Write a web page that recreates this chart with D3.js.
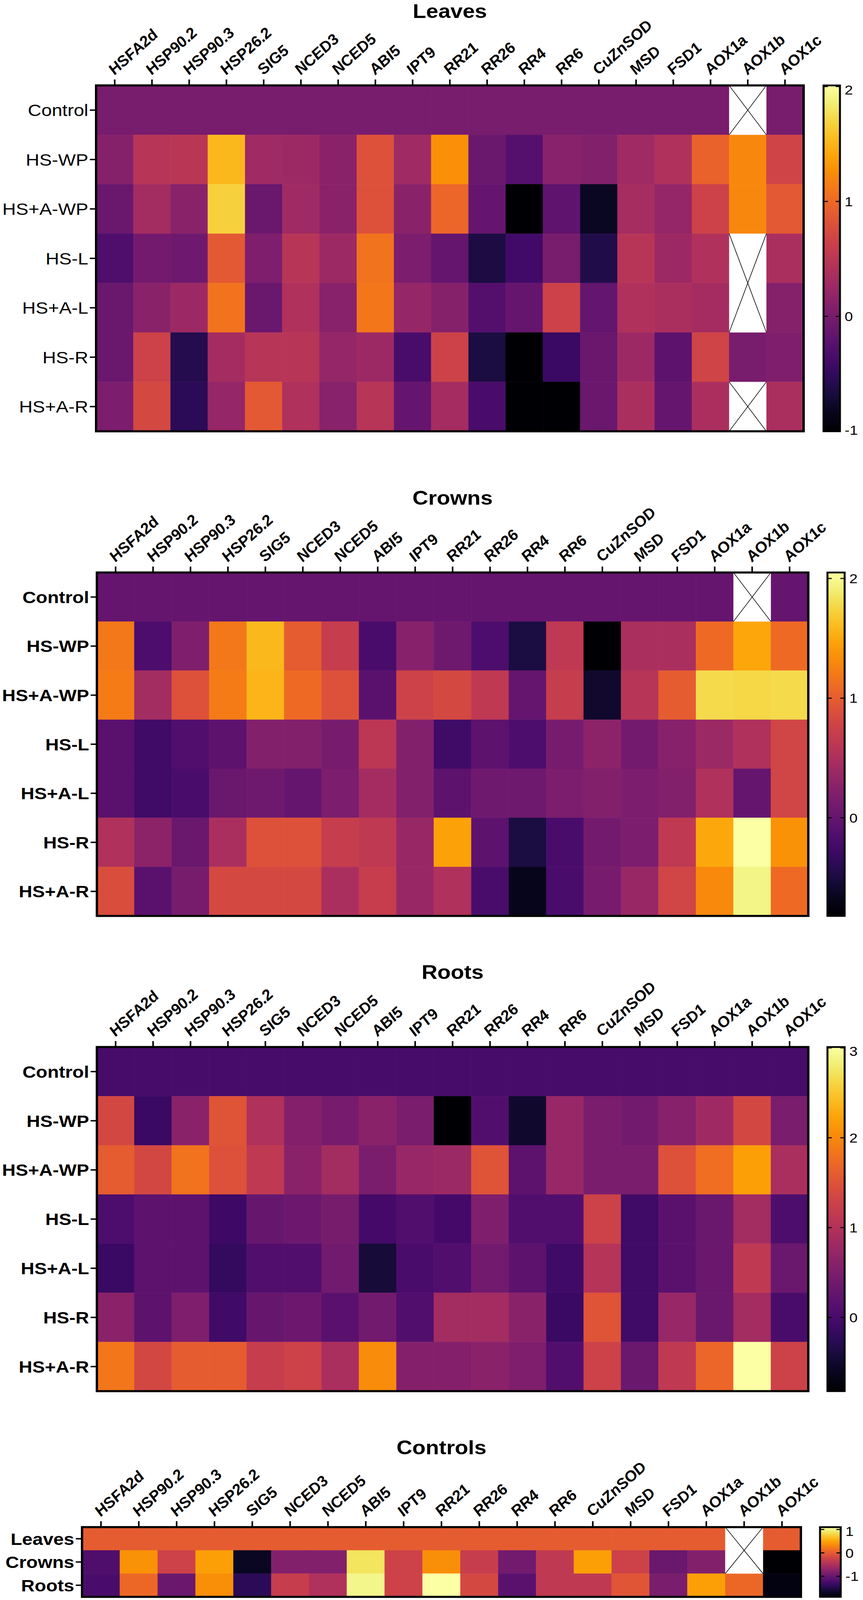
<!DOCTYPE html>
<html>
<head>
<meta charset="utf-8">
<script src="https://cdn.jsdelivr.net/npm/d3@7"></script>
<style>
  html, body { margin: 0; background: #fff; overflow: hidden; }
  svg { display: block; }
  text { font-family: "Liberation Sans", Arial, sans-serif; fill: #000; }
</style>
</head>
<body>
<svg id="chart"></svg>
<script>
// genes (columns), shared by every panel
const genes = ['HSFA2d', 'HSP90.2', 'HSP90.3', 'HSP26.2', 'SIG5', 'NCED3', 'NCED5', 'ABI5', 'IPT9',
  'RR21', 'RR26', 'RR4', 'RR6', 'CuZnSOD', 'MSD', 'FSD1', 'AOX1a', 'AOX1b', 'AOX1c'];
const treatments = ['Control', 'HS-WP', 'HS+A-WP', 'HS-L', 'HS+A-L', 'HS-R', 'HS+A-R'];
const tissues = ['Leaves', 'Crowns', 'Roots'];

// values, null = no data (crossed cell)
const leavesValues = [
  [0, 0, 0, 0, 0, 0, 0, 0, 0, 0, 0, 0, 0, 0, 0, 0, 0, null, 0],
  [0.1, 0.47, 0.5, 1.52, 0.3, 0.27, 0.13, 0.8, 0.3, 1.28, -0.1, -0.25, 0.12, 0.08, 0.3, 0.42, 0.95, 1.22, 0.68],
  [-0.1, 0.32, 0.13, 1.67, -0.1, 0.3, 0.13, 0.8, 0.13, 0.98, -0.13, -1.0, -0.18, -0.82, 0.35, 0.22, 0.65, 1.22, 0.88],
  [-0.3, -0.03, -0.06, 0.88, 0.05, 0.47, 0.28, 1.07, 0.03, -0.13, -0.65, -0.4, 0.0, -0.62, 0.47, 0.28, 0.42, null, 0.38],
  [-0.1, 0.13, 0.27, 1.07, -0.1, 0.42, 0.12, 1.1, 0.22, 0.1, -0.27, -0.13, 0.65, -0.15, 0.42, 0.38, 0.33, null, 0.1],
  [-0.1, 0.65, -0.6, 0.33, 0.47, 0.47, 0.22, 0.28, -0.33, 0.65, -0.67, -1.0, -0.45, -0.1, 0.28, -0.2, 0.67, 0.0, 0.05],
  [0.03, 0.72, -0.55, 0.22, 0.88, 0.42, 0.12, 0.47, -0.13, 0.33, -0.33, -1.0, -1.0, -0.1, 0.38, -0.13, 0.38, null, 0.38]
];
const crownsValues = [
  [0, 0, 0, 0, 0, 0, 0, 0, 0, 0, 0, 0, 0, 0, 0, 0, 0, null, 0],
  [1.19, -0.16, 0.18, 1.19, 1.59, 0.99, 0.7, -0.19, 0.24, 0.07, -0.16, -0.5, 0.64, -0.82, 0.5, 0.5, 1.1, 1.48, 1.1],
  [1.22, 0.44, 0.9, 1.22, 1.56, 1.1, 0.9, -0.07, 0.76, 0.82, 0.64, 0.0, 0.7, -0.59, 0.59, 0.99, 1.79, 1.76, 1.79],
  [-0.07, -0.25, -0.13, -0.05, 0.21, 0.21, 0.13, 0.62, 0.21, -0.25, -0.05, -0.16, 0.13, 0.27, 0.1, 0.24, 0.39, 0.53, 0.79],
  [-0.07, -0.25, -0.19, 0.04, 0.07, 0.0, 0.16, 0.44, 0.21, -0.05, 0.07, 0.07, 0.16, 0.21, 0.16, 0.21, 0.53, 0.0, 0.79],
  [0.53, 0.27, 0.04, 0.5, 0.9, 0.9, 0.7, 0.64, 0.36, 1.45, -0.05, -0.5, -0.19, 0.1, 0.16, 0.64, 1.5, 2.04, 1.36],
  [0.87, -0.07, 0.13, 0.82, 0.82, 0.82, 0.5, 0.7, 0.36, 0.53, -0.19, -0.68, -0.19, 0.13, 0.36, 0.79, 1.3, 1.96, 1.1]
];
const rootsValues = [
  [0, 0, 0, 0, 0, 0, 0, 0, 0, 0, 0, 0, 0, 0, 0, 0, 0, 0, 0],
  [1.36, -0.13, 0.63, 1.51, 0.98, 0.56, 0.44, 0.63, 0.48, -0.82, 0.1, -0.51, 0.75, 0.48, 0.4, 0.59, 0.82, 1.36, 0.48],
  [1.59, 1.36, 1.82, 1.47, 1.13, 0.63, 0.86, 0.48, 0.75, 0.79, 1.51, 0.21, 0.75, 0.48, 0.48, 1.47, 1.78, 2.2, 0.94],
  [0.06, 0.21, 0.21, -0.09, 0.29, 0.36, 0.44, -0.02, 0.1, -0.02, 0.52, 0.1, 0.1, 1.28, -0.06, 0.17, 0.33, 0.86, 0.06],
  [-0.13, 0.21, 0.21, -0.17, 0.1, 0.1, 0.4, -0.44, 0.02, 0.1, 0.4, 0.21, -0.06, 1.05, -0.06, 0.17, 0.33, 1.13, 0.33],
  [0.63, 0.21, 0.52, -0.06, 0.29, 0.36, 0.17, 0.4, 0.1, 0.86, 0.86, 0.63, -0.13, 1.51, -0.06, 0.75, 0.33, 0.86, 0.02],
  [1.85, 1.36, 1.59, 1.59, 1.2, 1.28, 0.94, 2.05, 0.56, 0.56, 0.63, 0.52, 0.1, 1.28, 0.33, 1.13, 1.7, 3.0, 1.28]
];
const controlsValues = [
  [0, 0, 0, 0, 0, 0, 0, 0, 0, 0, 0, 0, 0, 0, 0, 0, 0, null, 0],
  [-1.19, 0.38, -0.24, 0.47, -1.7, -0.81, -0.81, 0.89, -0.24, 0.36, -0.3, -0.93, -0.36, 0.47, -0.24, -0.99, -0.81, null, -1.88],
  [-1.22, 0.09, -0.99, 0.36, -1.43, -0.3, -0.48, 1.01, -0.24, 1.1, -0.18, -1.11, -0.36, -0.36, -0.06, -0.87, 0.47, 0.09, -1.79]
];

// colour bar extents and labelled ticks
const leavesRange = [-1, 2.01], leavesTicks = [-1, 0, 1, 2];
const crownsRange = [-0.82, 2.05], crownsTicks = [0, 1, 2];
const rootsRange = [-0.82, 3.01], rootsTicks = [0, 1, 2, 3];
const controlsRange = [-1.88, 1.1], controlsTicks = [-1, 0, 1];

// layout is in the original figure's pixels; the viewBox squeezes it into the window
const W = 2209, H = 4589;
const viewH = Math.min(H, window.innerHeight || H);
const svg = d3.select('#chart')
  .attr('width', W).attr('height', viewH)
  .attr('viewBox', `0 0 ${W} ${H}`)
  .attr('preserveAspectRatio', 'none');
const defs = svg.append('defs');

const panels = [
  { id: 'leaves', title: 'Leaves', titleY: 32, rows: treatments, values: leavesValues, range: leavesRange, ticks: leavesTicks,
    x0: 246, x1: 2057, y0: 245, y1: 1237, bx0: 2108, bx1: 2150, boldRows: false },
  { id: 'crowns', title: 'Crowns', titleY: 1427, rows: treatments, values: crownsValues, range: crownsRange, ticks: crownsTicks,
    x0: 248, x1: 2069, y0: 1642, y1: 2627, bx0: 2118, bx1: 2162, boldRows: true },
  { id: 'roots', title: 'Roots', titleY: 2788, rows: treatments, values: rootsValues, range: rootsRange, ticks: rootsTicks,
    x0: 248, x1: 2069, y0: 3003, y1: 3990, bx0: 2118, bx1: 2162, boldRows: true },
  { id: 'controls', title: 'Controls', titleY: 4151, rows: tissues, values: controlsValues, range: controlsRange, ticks: controlsTicks,
    x0: 210, x1: 2050, y0: 4380, y1: 4580, bx0: 2099, bx1: 2152, boldRows: true }
];

function drawPanel(p) {
  const g = svg.append('g').attr('class', p.id);
  const x = d3.scaleBand().domain(genes).range([p.x0, p.x1]);
  const y = d3.scaleBand().domain(p.rows).range([p.y0, p.y1]);
  const color = d3.scaleSequential(d3.interpolateInferno).domain(p.range);

  const cells = p.values.flatMap((row, i) => row.map((v, j) => ({ row: p.rows[i], gene: genes[j], v })));

  g.append('g').selectAll('rect').data(cells.filter(d => d.v !== null)).enter().append('rect')
    .attr('x', d => x(d.gene)).attr('y', d => y(d.row))
    .attr('width', x.bandwidth()).attr('height', y.bandwidth())
    .attr('fill', d => color(d.v)).attr('stroke', d => color(d.v)).attr('stroke-width', 0.6);

  // missing data: each run of empty cells in a column gets one white box with an X
  const runs = [];
  genes.forEach((gene, j) => {
    let start = null;
    p.rows.forEach((r, i) => {
      const missing = p.values[i][j] === null;
      if (missing && start === null) start = i;
      if ((!missing || i === p.rows.length - 1) && start !== null) {
        const end = missing ? i : i - 1;
        runs.push({ gene, top: p.rows[start], bottom: p.rows[end] });
        start = null;
      }
    });
  });
  const na = g.append('g').selectAll('g').data(runs).enter().append('g');
  na.append('rect')
    .attr('x', d => x(d.gene)).attr('y', d => y(d.top))
    .attr('width', x.bandwidth()).attr('height', d => y(d.bottom) + y.bandwidth() - y(d.top))
    .attr('fill', '#fff');
  na.append('line')
    .attr('x1', d => x(d.gene)).attr('y1', d => y(d.top))
    .attr('x2', d => x(d.gene) + x.bandwidth()).attr('y2', d => y(d.bottom) + y.bandwidth())
    .attr('stroke', '#000').attr('stroke-width', 1.6);
  na.append('line')
    .attr('x1', d => x(d.gene) + x.bandwidth()).attr('y1', d => y(d.top))
    .attr('x2', d => x(d.gene)).attr('y2', d => y(d.bottom) + y.bandwidth())
    .attr('stroke', '#000').attr('stroke-width', 1.6);

  // frame
  g.append('rect').attr('x', p.x0).attr('y', p.y0)
    .attr('width', p.x1 - p.x0).attr('height', p.y1 - p.y0)
    .attr('fill', 'none').attr('stroke', '#000').attr('stroke-width', 6);

  // gene axis on top
  const top = g.append('g').attr('transform', `translate(0,${p.y0})`)
    .call(d3.axisTop(x).tickSize(17).tickSizeOuter(0));
  top.select('.domain').remove();
  top.selectAll('.tick line').attr('stroke', '#000').attr('stroke-width', 4);
  top.selectAll('.tick text')
    .attr('x', 0).attr('y', 0).attr('dy', null)
    .attr('transform', 'translate(0,-29) rotate(-45)')
    .style('text-anchor', 'start')
    .style('font-size', '42px').style('font-weight', 'bold').style('font-style', 'italic');

  // treatment axis on the left
  const left = g.append('g').attr('transform', `translate(${p.x0},0)`)
    .call(d3.axisLeft(y).tickSize(16).tickSizeOuter(0));
  left.select('.domain').remove();
  left.selectAll('.tick line').attr('stroke', '#000').attr('stroke-width', 4);
  left.selectAll('.tick text')
    .attr('x', -20).attr('dy', '0.36em')
    .style('font-size', '48px').style('font-weight', p.boldRows ? 'bold' : 'normal');

  g.append('text').attr('x', (p.x0 + p.x1) / 2).attr('y', p.titleY + 20)
    .attr('text-anchor', 'middle')
    .style('font-size', '56px').style('font-weight', 'bold').text(p.title);

  // colour bar
  const gradId = `grad-${p.id}`;
  const grad = defs.append('linearGradient').attr('id', gradId)
    .attr('x1', 0).attr('y1', 0).attr('x2', 0).attr('y2', 1);
  d3.range(0, 1.0001, 0.05).forEach(t => {
    grad.append('stop').attr('offset', t)
      .attr('stop-color', color(p.range[1] - t * (p.range[1] - p.range[0])));
  });
  const by = d3.scaleLinear().domain(p.range).range([p.y1, p.y0]);
  g.append('rect').attr('x', p.bx0).attr('y', p.y0)
    .attr('width', p.bx1 - p.bx0).attr('height', p.y1 - p.y0)
    .attr('fill', `url(#${gradId})`).attr('stroke', '#000').attr('stroke-width', 5);
  const tk = g.append('g').selectAll('g').data(p.ticks).enter().append('g');
  tk.append('line').attr('x1', p.bx0).attr('x2', p.bx0 + 11)
    .attr('y1', d => by(d)).attr('y2', d => by(d)).attr('stroke', '#000').attr('stroke-width', 3);
  tk.append('line').attr('x1', p.bx1 - 11).attr('x2', p.bx1)
    .attr('y1', d => by(d)).attr('y2', d => by(d)).attr('stroke', '#000').attr('stroke-width', 3);
  tk.append('text').attr('x', p.bx1 + 12)
    .attr('y', d => Math.min(Math.max(by(d), p.y0 + 12), p.y1 - 4))
    .attr('dy', '0.36em')
    .style('font-size', '38px').text(d => d);
}

panels.forEach(drawPanel);
</script>
</body>
</html>
